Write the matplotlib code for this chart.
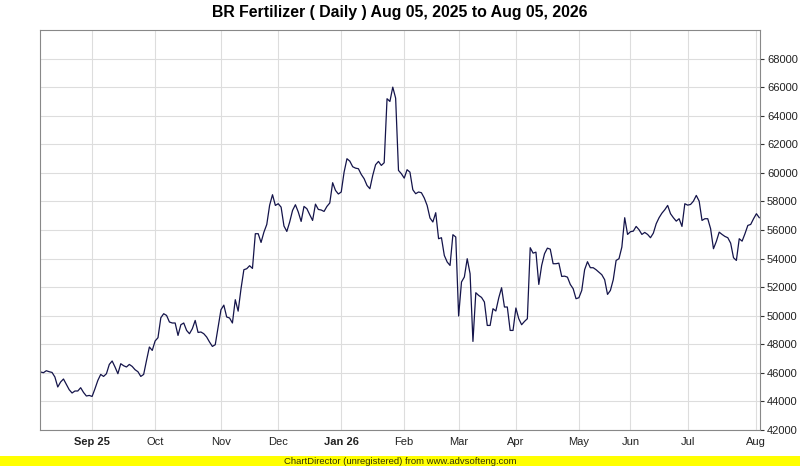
import matplotlib
matplotlib.use("Agg")
import matplotlib.pyplot as plt
from matplotlib.patches import Rectangle

plt.rcParams["font.family"] = ["Liberation Sans", "DejaVu Sans"]

# %% Data (daily closes, one value per trading day)

prices = [
    46060, 46010, 46150, 46080, 46030, 45710, 45010, 45360, 45570, 45190,
    44820, 44590, 44730, 44730, 44960, 44630, 44380, 44420, 44350, 44890,
    45470, 45890, 45750, 45940, 46590, 46830, 46410, 45940, 46640, 46500,
    46410, 46590, 46450, 46220, 46080, 45750, 45890, 46870, 47810, 47570,
    48230, 48460, 49860, 50140, 50020, 49560, 49490, 49490, 48620, 49370,
    49490, 48970, 48740, 49090, 49670, 48830, 48860, 48740, 48510, 48160,
    47850, 47970, 49210, 50420, 50740, 49910, 49840, 49490, 51120, 50320,
    51890, 53220, 53290, 53500, 53310, 55740, 55740, 55130, 55850, 56390,
    57740, 58470, 57720, 57840, 57600,
    56280, 55900, 56560, 57370, 57770, 57260, 56600, 57650, 57490, 57070,
    56670, 57810, 57440, 57400, 57300, 57650, 57890, 59310, 58770, 58520,
    58660, 60050, 60990, 60820, 60430, 60330, 60290, 59890, 59590, 59120,
    58890, 59820, 60570, 60800, 60520, 60710, 65190, 65000, 66000, 65230,
    60170, 59940, 59630, 60220, 60050, 58820, 58540, 58660, 58610, 58240,
    57720, 56840, 56560, 57210, 55390, 55460, 54220, 53760, 53520, 55670,
    55510, 49980, 52360, 52710, 53990, 52940, 48200, 51610, 51420, 51280,
    50960, 49320, 49320, 50490, 50330, 51240, 51960, 50610, 50610, 48970,
    48970, 50540, 49790, 49370,
    49600, 49790,
    54760, 54380, 54450, 52190, 53520, 54340, 54730, 54660, 53640, 53640,
    53680, 52750, 52770, 52700, 52190, 51890, 51190, 51260, 51770, 53220,
    53780, 53360, 53360, 53220, 53050, 52870, 52520, 51490, 51770, 52520,
    53870, 53990, 54800, 56860, 55690, 55880, 55920, 56250, 56020, 55690,
    55830, 55690, 55460, 55780, 56440, 56860, 57180, 57420, 57720, 57140,
    56860, 56620, 56790, 56250, 57840, 57740, 57790, 58020, 58420, 58020,
    56670, 56790, 56790, 56090, 54690, 55200, 55850, 55690, 55550, 55460,
    55080, 54060, 53870, 55390, 55220, 55740, 56320, 56390, 56790, 57140,
    56860,
]

month_labels = ["Sep 25", "Oct", "Nov", "Dec", "Jan 26", "Feb",
                "Mar", "Apr", "May", "Jun", "Jul", "Aug"]
month_index = [18, 40, 63, 83, 105, 127, 146, 166, 188, 206, 226, 250]
bold_labels = {"Sep 25", "Jan 26"}

y_ticks = list(range(42000, 68001, 2000))

title = "BR Fertilizer ( Daily ) Aug 05, 2025 to Aug 05, 2026"
footer = "ChartDirector (unregistered) from www.advsofteng.com"

# %% Plot

fig = plt.figure(figsize=(8, 4.66), dpi=100)
ax = fig.add_axes([0.05, 36 / 466, 0.9, 400 / 466])

ax.plot(range(len(prices)), prices, color="#14144a", linewidth=0.9)

ax.set_xlim(-0.2, len(prices) - 0.75)
ax.set_ylim(42000, 70000)

ax.yaxis.tick_right()
ax.set_yticks(y_ticks, [str(v) for v in y_ticks])
ax.tick_params(axis="y", length=3, width=0.8, color="#333333",
               labelsize=8, pad=2, labelcolor="#222222")

ax.set_xticks(month_index, month_labels)
ax.tick_params(axis="x", length=0, pad=5, labelsize=8, labelcolor="#222222")
for lbl in ax.get_xticklabels():
    if lbl.get_text() in bold_labels:
        lbl.set_fontweight("bold")

ax.grid(color="#dddddd", linewidth=0.8)
ax.set_axisbelow(True)
for side in ["left", "right", "top", "bottom"]:
    ax.spines[side].set_color("#888888")
    ax.spines[side].set_linewidth(0.8)

fig.text(0.5, 1 - 13 / 466, title, ha="center", va="center",
         fontsize=11.4, fontweight="bold", color="#000000")

# yellow "unregistered" footer strip
fig.patches.append(Rectangle((0, 0), 1, 10 / 466, transform=fig.transFigure,
                             facecolor="#ffff00", edgecolor="none", zorder=0))
fig.text(0.5, 5 / 466, footer, ha="center", va="center", fontsize=6.8,
         color="#333300")

fig.savefig("out.png", dpi=100)
